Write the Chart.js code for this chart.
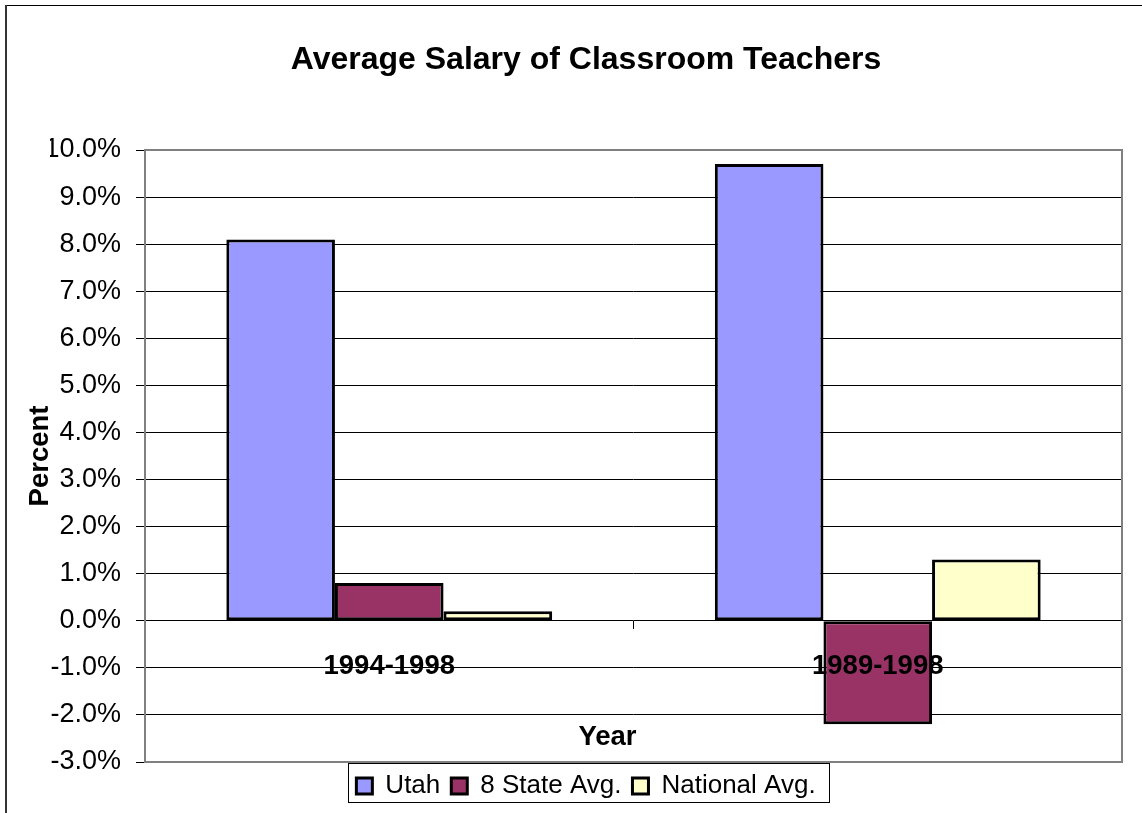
<!DOCTYPE html>
<html><head><meta charset="utf-8">
<script src="https://cdn.jsdelivr.net/npm/chart.js@4/dist/chart.umd.min.js"></script>
<style>html,body{margin:0;padding:0;background:#fff;overflow:hidden}
#wrap{position:relative;width:1142px;height:813px}</style>
</head><body><div id="wrap"><canvas id="c"></canvas></div>
<script>
const categories = ['1994-1998', '1989-1998'];
const seriesNames = ['Utah', '8 State Avg.', 'National Avg.'];
const utahValues = [8.1, 9.7];
const eightStateValues = [0.8, -2.2];
const nationalValues = [0.2, 1.3];
const yTickMin = -3, yTickMax = 10, yTickStep = 1;
const chartTitle = 'Average Salary of Classroom Teachers';
const xTitle = 'Year';
const yTitle = 'Percent';

const FONT = "'Liberation Sans', Arial, sans-serif";

const framePlugin = {
  id: 'frame',
  beforeDraw(chart) {
    const ctx = chart.ctx;
    ctx.save();
    ctx.fillStyle = '#fff';
    ctx.fillRect(0, 0, chart.width, chart.height);
    ctx.fillStyle = '#000';
    ctx.fillRect(5, 5, chart.width, 1);
    ctx.fillStyle = '#333';
    ctx.fillRect(5, 5, 2, chart.height);
    ctx.restore();
  },
  beforeDatasetsDraw(chart) {
    const {ctx, chartArea: a} = chart;
    ctx.save();
    ctx.strokeStyle = '#808080';
    ctx.lineWidth = 2;
    ctx.strokeRect(a.left, a.top, a.right - a.left, a.bottom - a.top);
    ctx.restore();
  },
  afterLayout(chart) {
    // Excel places the category-axis title slightly left of the plot centre
    const x = chart.scales.x;
    x.left = chart.chartArea.left - 52;
  },
  afterDraw(chart) {
    const lg = chart.legend;
    if (!lg || !lg.legendHitBoxes || !lg.legendHitBoxes.length) return;
    const hb = lg.legendHitBoxes;
    const first = hb[0], last = hb[hb.length - 1];
    const ctx = chart.ctx;
    ctx.save();
    ctx.strokeStyle = '#000';
    ctx.lineWidth = 1;
    const x1 = Math.round(first.left - 8) + 0.5;
    const x2 = Math.round(last.left + last.width + 13) + 0.5;
    const y1 = Math.round(lg.top) + 1.5;
    const y2 = Math.round(lg.top) + 40.5;
    ctx.strokeRect(x1, y1, x2 - x1, y2 - y1);
    ctx.restore();
  }
};

const barStyle = {borderColor: '#000', borderWidth: 3, borderSkipped: false,
  categoryPercentage: 0.667, barPercentage: 1.0};

new Chart(document.getElementById('c'), {
  type: 'bar',
  data: {
    labels: categories,
    datasets: [
      Object.assign({label: seriesNames[0], data: utahValues, backgroundColor: '#9999FF'}, barStyle),
      Object.assign({label: seriesNames[1], data: eightStateValues, backgroundColor: '#993366'}, barStyle),
      Object.assign({label: seriesNames[2], data: nationalValues, backgroundColor: '#FFFFCC'}, barStyle)
    ]
  },
  options: {
    responsive: true,
    maintainAspectRatio: false,
    animation: false,
    layout: {padding: {left: 50, right: 20, top: 0, bottom: 4}},
    plugins: {
      tooltip: {enabled: false},
      title: {
        display: true, text: chartTitle, color: '#000',
        font: {family: FONT, size: 32, weight: 'bold'},
        padding: {top: 41, bottom: 70.6}
      },
      legend: {
        position: 'bottom',
        labels: {
          color: '#000', font: {family: FONT, size: 26},
          boxWidth: 16, boxHeight: 16, padding: 11
        }
      }
    },
    scales: {
      y: {
        min: yTickMin, max: yTickMax,
        afterFit(s) { s.width = 95; },
        ticks: {
          stepSize: yTickStep, color: '#000', padding: 15,
          font: {family: FONT, size: 27},
          callback: v => v.toFixed(1) + '%'
        },
        grid: {
          color: c => (c.tick && (c.tick.value === yTickMax || c.tick.value === yTickMin)) ? 'rgba(0,0,0,0)' : '#000',
          lineWidth: 1, tickLength: 9, tickColor: '#000'
        },
        border: {display: false},
        title: {
          display: true, text: yTitle, color: '#000',
          font: {family: FONT, size: 27.5, weight: 'bold'},
          padding: {top: -26.5, bottom: 0}
        }
      },
      x: {
        position: {y: 0},
        offset: true,
        afterFit(s) { s.height = 0; },
        ticks: {
          z: 1,
          color: '#000', padding: 21, maxRotation: 0, autoSkip: false,
          font: {family: FONT, size: 27.5, weight: 'bold'}
        },
        grid: {
          display: true, drawOnChartArea: false, offset: true,
          tickLength: 8, tickColor: '#000', color: '#000'
        },
        border: {display: false},
        title: {
          display: true, text: xTitle, color: '#000',
          font: {family: FONT, size: 27.5, weight: 'bold'},
          padding: {top: 0, bottom: -133.5}
        }
      }
    }
  },
  plugins: [framePlugin]
});
</script></body></html>
